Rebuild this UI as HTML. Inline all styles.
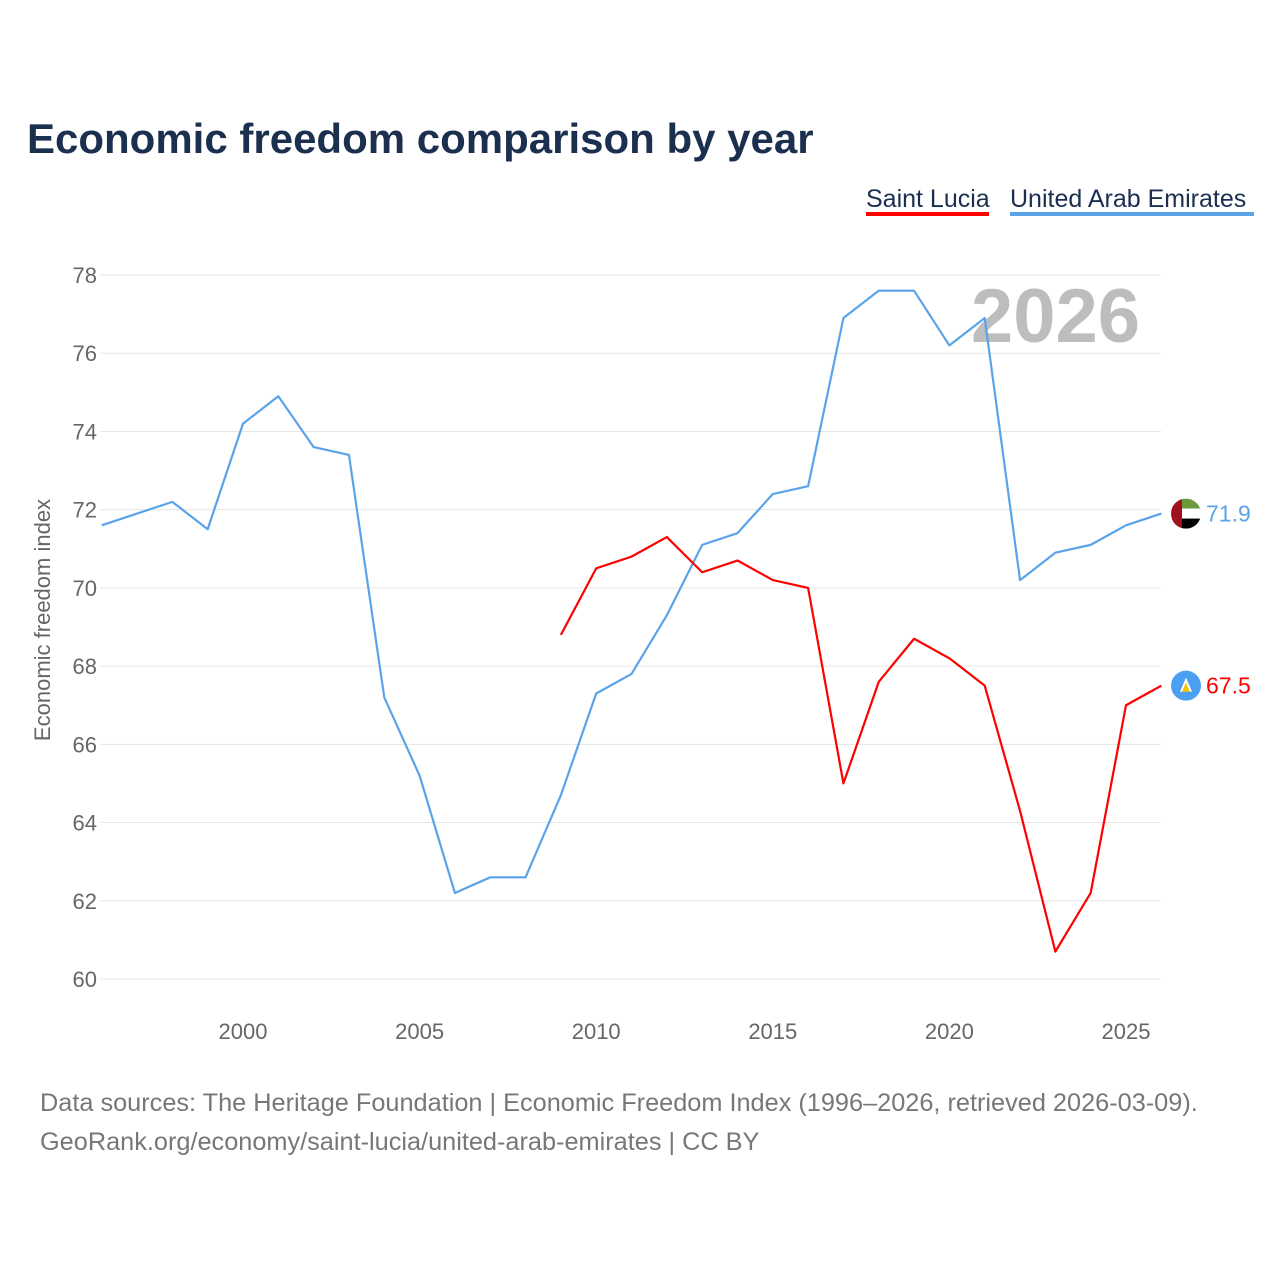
<!DOCTYPE html>
<html><head><meta charset="utf-8"><style>
body{margin:0;background:#fff;font-family:"Liberation Sans",sans-serif;}
svg{display:block}
</style></head><body>
<svg id="chart" width="1280" height="1280">
<defs><clipPath id="fc"><circle id="fcc" cx="1186" cy="0" r="15"></circle></clipPath></defs>
<text x="27" y="153" font-size="42" font-weight="bold" fill="#1b2f4f">Economic freedom comparison by year</text>
<g>
<text x="866" y="207" font-size="25" fill="#1b2f4f">Saint Lucia</text>
<rect x="866" y="212" width="123" height="4" fill="#f00"></rect>
<text x="1010" y="207" font-size="25" fill="#1b2f4f">United Arab Emirates</text>
<rect x="1010" y="212" width="244" height="4" fill="#5ba3e8"></rect>
</g>
<text x="1140" y="342" font-size="76" font-weight="bold" fill="#bdbdbd" text-anchor="end">2026</text>
<text transform="translate(50,620) rotate(-90)" font-size="22" fill="#666" text-anchor="middle">Economic freedom index</text>
<g id="grid"></g><g id="series"></g>
<text x="40" y="1111" font-size="25.3" fill="#777">Data sources: The Heritage Foundation | Economic Freedom Index (1996–2026, retrieved 2026-03-09).</text>
<text x="40" y="1150" font-size="25.3" fill="#777">GeoRank.org/economy/saint-lucia/united-arab-emirates | CC BY</text>
</svg>
<script>
const uaeYears=[1996,1997,1998,1999,2000,2001,2002,2003,2004,2005,2006,2007,2008,2009,2010,2011,2012,2013,2014,2015,2016,2017,2018,2019,2020,2021,2022,2023,2024,2025,2026];
const uaeValues=[71.6,71.9,72.2,71.5,74.2,74.9,73.6,73.4,67.2,65.2,62.2,62.6,62.6,64.7,67.3,67.8,69.3,71.1,71.4,72.4,72.6,76.9,77.6,77.6,76.2,76.9,70.2,70.9,71.1,71.6,71.9];
const lucYears=[2009,2010,2011,2012,2013,2014,2015,2016,2017,2018,2019,2020,2021,2022,2023,2024,2025,2026];
const lucValues=[68.8,70.5,70.8,71.3,70.4,70.7,70.2,70.0,65.0,67.6,68.7,68.2,67.5,64.3,60.7,62.2,67.0,67.5];
const yTicks=[60,62,64,66,68,70,72,74,76,78];
const xTicks=[2000,2005,2010,2015,2020,2025];
const NS="http://www.w3.org/2000/svg";
const xs=y=>243+(y-2000)*35.32;
const ys=v=>979-(v-60)*39.11;
function mk(t,a,p){const e=document.createElementNS(NS,t);for(const k in a)e.setAttribute(k,a[k]);p.appendChild(e);return e;}
const grid=document.getElementById('grid');
yTicks.forEach(v=>{
 const l=mk('line',{x1:100,x2:1161,y1:ys(v),y2:ys(v),stroke:'#e6e6e6','stroke-width':1},grid);
 
 
 const t=mk('text',{x:97,y:ys(v)+8,'font-size':22,fill:'#666','text-anchor':'end'},grid);t.textContent=v;
 
 
});
xTicks.forEach(y=>{
 const t=mk('text',{x:xs(y),y:1039,'font-size':22,fill:'#666','text-anchor':'middle'},grid);t.textContent=y;
 
 
});
const s=document.getElementById('series');
function line(yrs,vals,col,name){
 const p=mk('polyline',{points:yrs.map((y,i)=>xs(y)+','+ys(vals[i])).join(' '),fill:'none',stroke:col,'stroke-width':2.2,'stroke-linejoin':'round'},s);
 
 
}
line(uaeYears,uaeValues,'#5ba3e8','line-uae');
line(lucYears,lucValues,'#f00','line-saint-lucia');
const uv=uaeValues[uaeValues.length-1], lv=lucValues[lucValues.length-1];
const cy=ys(uv);
document.getElementById('fcc').setAttribute('cy',cy);
const g1=mk('g',{'clip-path':'url(#fc)'},s);


mk('rect',{x:1171,y:cy-15,width:30,height:10,fill:'#6a9a3a'},g1);
mk('rect',{x:1171,y:cy-5,width:30,height:10,fill:'#fff'},g1);
mk('rect',{x:1171,y:cy+5,width:30,height:10,fill:'#000'},g1);
mk('rect',{x:1171,y:cy-15,width:11,height:30,fill:'#a01020'},g1);
const t1=mk('text',{x:1206,y:cy+8,'font-size':23,fill:'#5ba3e8'},s);t1.textContent=uv.toFixed(1);


const cy2=ys(lv);
const g2=mk('g',{},s);


mk('circle',{cx:1186,cy:cy2,r:15,fill:'#4a9ff0'},g2);
mk('polygon',{points:`1186,${cy2-8} 1192,${cy2+6} 1180,${cy2+6}`,fill:'#fff'},g2);
mk('polygon',{points:`1186,${cy2-3} 1190,${cy2+6} 1182,${cy2+6}`,fill:'#f5c400'},g2);
const t2=mk('text',{x:1206,y:cy2+8,'font-size':23,fill:'#f00'},s);t2.textContent=lv.toFixed(1);


</script>
</body></html>
